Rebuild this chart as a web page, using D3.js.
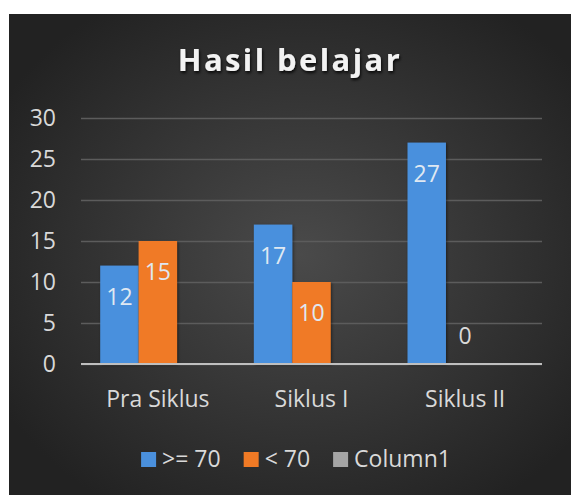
<!DOCTYPE html>
<html>
<head>
<meta charset="utf-8">
<script src="https://cdn.jsdelivr.net/npm/d3@7"></script>
<style>
  body { margin: 0; background: #fff; }
  svg text { font-family: "Open Sans", "DejaVu Sans", sans-serif; }
</style>
</head>
<body>
<div id="chart"></div>
<script>
// Dados
const categories = ["Pra Siklus", "Siklus I", "Siklus II"];
const seriesNames = [">= 70", "< 70", "Column1"];
const above70 = [12, 17, 27];
const below70 = [15, 10, 0];
const column1 = [null, null, null];
const yTicks = [0, 5, 10, 15, 20, 25, 30];
const seriesColors = ["#4a90dd", "#f07a25", "#a5a5a5"];

const W = 571, H = 495;
const plot = { left: 81, right: 542, top: 118, bottom: 364 };

const svg = d3.select("#chart")
    .append("svg")
    .attr("width", W)
    .attr("height", H);

const defs = svg.append("defs");

// fundo com gradiente radial
const bg = defs.append("radialGradient")
    .attr("id", "bg")
    .attr("cx", "52%").attr("cy", "50%").attr("r", "62%");
bg.append("stop").attr("offset", "0%").attr("stop-color", "#4a4a4a");
bg.append("stop").attr("offset", "100%").attr("stop-color", "#222222");

const shadow = defs.append("filter").attr("id", "shadow")
    .attr("x", "-10%").attr("y", "-30%").attr("width", "130%").attr("height", "170%");
shadow.append("feDropShadow")
    .attr("dx", 1).attr("dy", 2).attr("stdDeviation", 1.5)
    .attr("flood-color", "#000").attr("flood-opacity", 0.85);

const barShadow = defs.append("filter").attr("id", "barShadow")
    .attr("x", "-20%").attr("y", "-10%").attr("width", "140%").attr("height", "120%");
barShadow.append("feDropShadow")
    .attr("dx", 1).attr("dy", 1).attr("stdDeviation", 1.5)
    .attr("flood-color", "#000").attr("flood-opacity", 0.5);

svg.append("rect")
    .attr("x", 9).attr("y", 14)
    .attr("width", W - 9).attr("height", H - 14)
    .attr("fill", "url(#bg)");

// Titulo
svg.append("text")
    .attr("x", 290)
    .attr("y", 71)
    .attr("text-anchor", "middle")
    .attr("fill", "#f2f2f2")
    .attr("font-size", "31px")
    .attr("font-weight", "bold")
    .attr("letter-spacing", "2.4px")
    .attr("filter", "url(#shadow)")
    .text("Hasil belajar");

// Escalas
const x0 = d3.scaleBand()
    .domain(categories)
    .range([plot.left, plot.right])
    .padding(0);

const x1 = d3.scaleBand()
    .domain(seriesNames)
    .range([0, x0.bandwidth()])
    .paddingInner(0)
    .paddingOuter(0.5);

const y = d3.scaleLinear()
    .domain([0, 30])
    .range([plot.bottom, plot.top]);

// Grid + eixo Y
const yAxis = svg.append("g")
    .attr("transform", `translate(${plot.left},0)`)
    .call(d3.axisLeft(y)
        .tickValues(yTicks)
        .tickSize(-(plot.right - plot.left))
        .tickPadding(25));
yAxis.select(".domain").remove();
yAxis.selectAll(".tick line")
    .attr("stroke", "#5c5c5c")
    .attr("stroke-width", 1.5);
yAxis.selectAll(".tick text")
    .attr("fill", "#d9d9d9")
    .attr("font-size", "23px")
    .attr("font-family", "'Open Sans', sans-serif");

// Barras
const seriesData = [above70, below70, column1];
const bars = [];
categories.forEach((c, i) => {
    seriesNames.forEach((s, j) => {
        bars.push({ cat: c, name: s, value: seriesData[j][i], color: seriesColors[j] });
    });
});

svg.selectAll(".bar")
    .data(bars.filter(d => d.value != null && d.value > 0))
    .enter()
    .append("rect")
    .attr("class", "bar")
    .attr("x", d => x0(d.cat) + x1(d.name))
    .attr("y", d => y(d.value))
    .attr("width", x1.bandwidth())
    .attr("height", d => y(0) - y(d.value))
    .attr("fill", d => d.color)
    .attr("filter", "url(#barShadow)");

// Linha base
svg.append("line")
    .attr("x1", plot.left).attr("x2", plot.right)
    .attr("y1", y(0)).attr("y2", y(0))
    .attr("stroke", "#bfbfbf")
    .attr("stroke-width", 2);

// Rotulos de dados
svg.selectAll(".label")
    .data(bars.filter(d => d.value != null))
    .enter()
    .append("text")
    .attr("class", "label")
    .attr("x", d => x0(d.cat) + x1(d.name) + x1.bandwidth() / 2)
    .attr("y", d => d.value > 0 ? y(d.value) + 39 : y(0) - 20)
    .attr("text-anchor", "middle")
    .attr("fill", d => d.value > 0 ? "#dfe8f2" : "#d9d9d9")
    .attr("font-size", "23px")
    .text(d => d.value);

// Eixo X (categorias)
svg.selectAll(".cat")
    .data(categories)
    .enter()
    .append("text")
    .attr("class", "cat")
    .attr("x", d => x0(d) + x0.bandwidth() / 2)
    .attr("y", 406.5)
    .attr("text-anchor", "middle")
    .attr("fill", "#d9d9d9")
    .attr("font-size", "23px")
    .text(d => d);

// Legenda
const legend = svg.append("g");
let lx = 0;
seriesNames.forEach((s, j) => {
    const item = legend.append("g").attr("transform", `translate(${lx},0)`);
    item.append("rect")
        .attr("x", 0).attr("y", -15)
        .attr("width", 15).attr("height", 15)
        .attr("fill", seriesColors[j]);
    const t = item.append("text")
        .attr("x", 21).attr("y", 0)
        .attr("fill", "#d9d9d9")
        .attr("font-size", "23px")
        .text(s);
    lx += 21 + t.node().getComputedTextLength() + 23;
});
const legendWidth = lx - 23;
legend.attr("transform", `translate(${296 - legendWidth / 2},467)`);
</script>
</body>
</html>
